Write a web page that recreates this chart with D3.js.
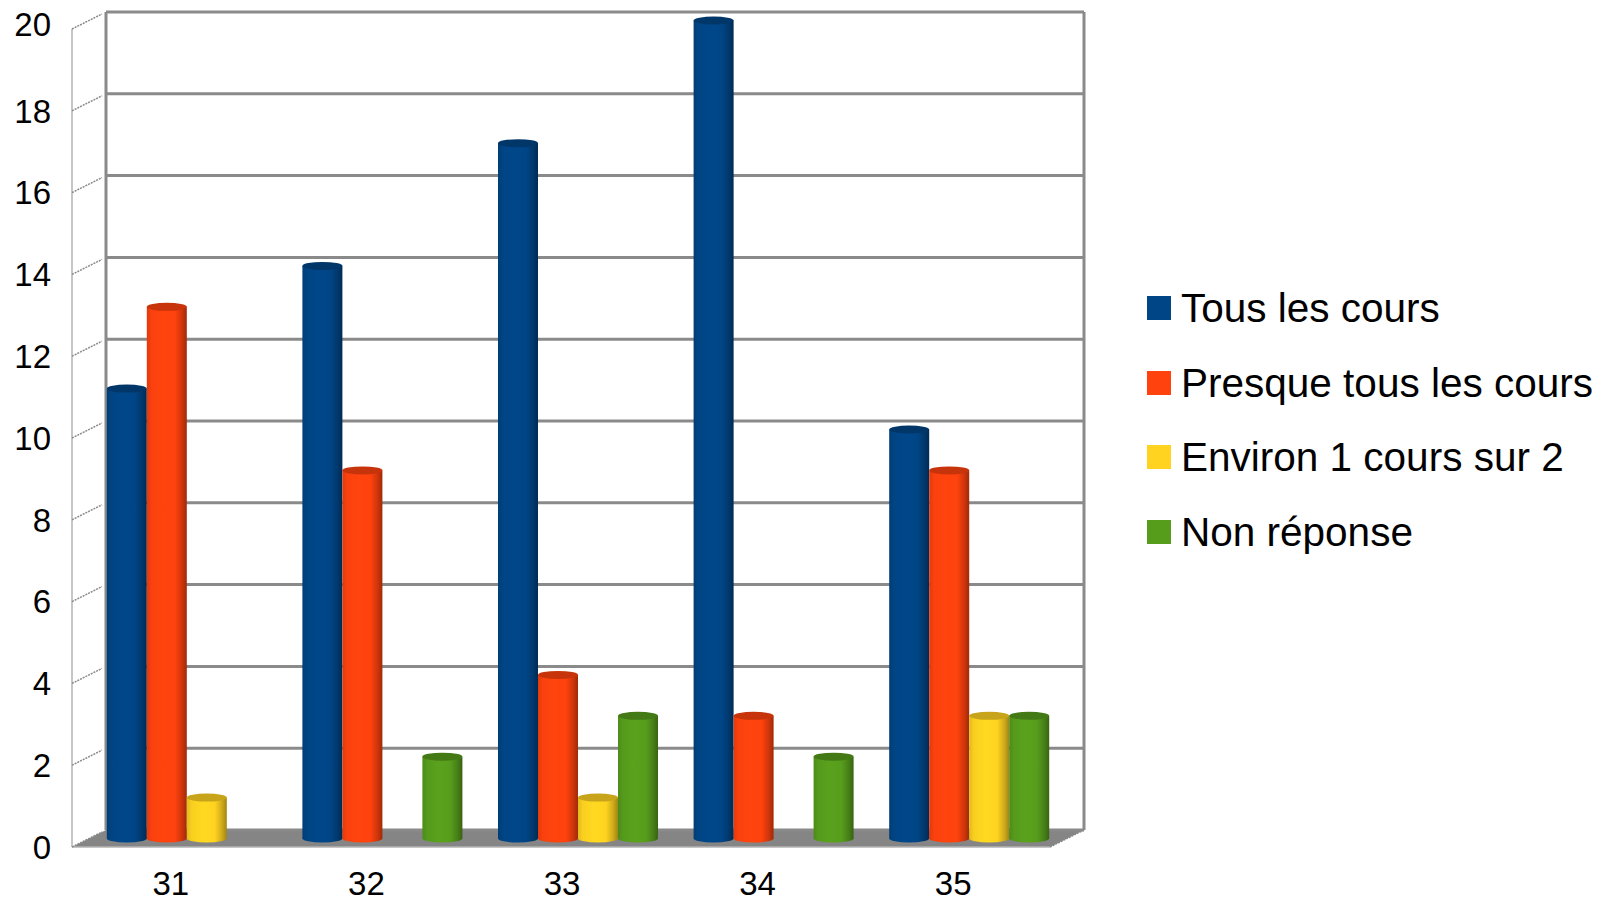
<!DOCTYPE html>
<html><head><meta charset="utf-8">
<script src="https://cdn.jsdelivr.net/npm/d3@7"></script>
<style>html,body{margin:0;padding:0;background:#fff;}svg{display:block;font-family:"Liberation Sans",Arial,sans-serif;}</style>
</head><body>
<svg id="chart" width="1601" height="903"></svg>
<script>
const categories = ["31", "32", "33", "34", "35"];
const seriesNames = ["Tous les cours", "Presque tous les cours", "Environ 1 cours sur 2", "Non réponse"];
const seriesColors = ["#004586", "#ff420e", "#ffd320", "#579d1c"];
const tousLesCours = [11, 14, 17, 20, 10];
const presqueTous = [13, 9, 4, 3, 9];
const environ1sur2 = [1, 0, 1, 0, 3];
const nonReponse = [0, 2, 3, 2, 3];
const yTicks = [0, 2, 4, 6, 8, 10, 12, 14, 16, 18, 20];

const seriesValues = [tousLesCours, presqueTous, environ1sur2, nonReponse];

const svg = d3.select("#chart");
const depthX = -34, depthY = 17; // back wall -> front
const halfX = depthX / 2, halfY = depthY / 2;

const y = d3.scaleLinear().domain([0, 20]).range([830, 12]);
const x = d3.scaleBand().domain(categories).range([106, 1084]);
const x1 = d3.scaleBand().domain(seriesNames).range([0, x.bandwidth()]).paddingInner(0).paddingOuter(0.445);

// gradients
const defs = svg.append("defs");
seriesColors.forEach((c, i) => {
  const base = d3.color(c);
  const g = defs.append("linearGradient").attr("id", "grad" + i).attr("x1", "0%").attr("x2", "100%").attr("y1", "0%").attr("y2", "0%");
  const stops = [
    [0, base.darker(0.35)],
    [0.12, base.darker(0.05)],
    [0.4, base.brighter(0.08)],
    [0.7, base],
    [0.88, base.darker(0.6)],
    [1, base.darker(1.3)]
  ];
  stops.forEach(s => g.append("stop").attr("offset", (s[0] * 100) + "%").attr("stop-color", s[1].formatHex()));
});

// floor
const x0b = 106, x1b = 1084;
svg.append("path")
  .attr("d", `M${x0b},${y(0)} L${x1b},${y(0)} L${x1b + depthX},${y(0) + depthY} L${x0b + depthX},${y(0) + depthY} Z`)
  .attr("fill", "#858585");
svg.append("line").attr("x1", x0b + depthX).attr("x2", x1b + depthX).attr("y1", y(0) + depthY).attr("y2", y(0) + depthY)
  .attr("stroke", "#b3b3b3").attr("stroke-width", 1.5);
svg.append("line").attr("x1", x1b).attr("y1", y(0)).attr("x2", x1b + depthX).attr("y2", y(0) + depthY)
  .attr("stroke", "#888").attr("stroke-width", 1.5).attr("stroke-dasharray", "2,1");

// back wall gridlines
svg.append("g").selectAll("line").data(yTicks).join("line")
  .attr("x1", x0b).attr("x2", x1b).attr("y1", d => y(d)).attr("y2", d => y(d))
  .attr("stroke", "#8a8a8a").attr("stroke-width", 3);
svg.append("line").attr("x1", x0b).attr("x2", x0b).attr("y1", y(20)).attr("y2", y(0)).attr("stroke", "#8a8a8a").attr("stroke-width", 3);
svg.append("line").attr("x1", x1b).attr("x2", x1b).attr("y1", y(20)).attr("y2", y(0)).attr("stroke", "#8a8a8a").attr("stroke-width", 3);

// front axis line & depth ticks
svg.append("line").attr("x1", x0b + depthX).attr("x2", x0b + depthX).attr("y1", y(20) + depthY).attr("y2", y(0) + depthY)
  .attr("stroke", "#a0a0a0").attr("stroke-width", 1.2);
svg.append("g").selectAll("line").data(yTicks).join("line")
  .attr("x1", x0b + depthX).attr("y1", d => y(d) + depthY)
  .attr("x2", x0b - 4).attr("y2", d => y(d) + 2)
  .attr("stroke", "#8a8a8a").attr("stroke-width", 1.5).attr("stroke-dasharray", "2,1");

// y tick labels
svg.append("g").selectAll("text").data(yTicks).join("text")
  .attr("x", 51).attr("y", d => d === 20 ? y(d) + depthY - 2 : y(d) + depthY + 3)
  .attr("text-anchor", "end").attr("dominant-baseline", "middle")
  .attr("font-size", 33).attr("fill", "#000").text(d => d);

// bars (cylinders)
const ry = 4;
const barData = [];
categories.forEach((cat, ci) => {
  seriesNames.forEach((s, si) => {
    const v = seriesValues[si][ci];
    if (v > 0) barData.push({cat, s, si, v});
  });
});
const bars = svg.append("g").selectAll("g").data(barData).join("g");
bars.each(function(d) {
  const g = d3.select(this);
  const bx = x(d.cat) + x1(d.s) + halfX;
  const bw = x1.bandwidth();
  const yTop = y(d.v) + halfY;
  const yBot = y(0) + halfY;
  const col = d3.color(seriesColors[d.si]);
  g.append("ellipse").attr("cx", bx + bw / 2).attr("cy", yBot).attr("rx", bw / 2).attr("ry", ry)
    .attr("fill", `url(#grad${d.si})`);
  g.append("rect").attr("x", bx).attr("y", yTop).attr("width", bw).attr("height", yBot - yTop)
    .attr("fill", `url(#grad${d.si})`);
  g.append("ellipse").attr("cx", bx + bw / 2).attr("cy", yTop).attr("rx", bw / 2).attr("ry", ry)
    .attr("fill", col.darker(0.7).formatHex());
});

// x category labels
svg.append("g").selectAll("text").data(categories).join("text")
  .attr("x", d => x(d) + x.bandwidth() / 2 + depthX + 1)
  .attr("y", 895)
  .attr("text-anchor", "middle").attr("font-size", 33).attr("fill", "#000").text(d => d);

// legend
const legendY = [322, 397, 471, 546];
const lg = svg.append("g").selectAll("g").data(seriesNames).join("g");
lg.append("rect").attr("x", 1147).attr("y", (d, i) => legendY[i] - 26).attr("width", 24).attr("height", 24)
  .attr("fill", (d, i) => seriesColors[i]);
lg.append("text").attr("x", 1181).attr("y", (d, i) => legendY[i])
  .attr("font-size", 40.5).attr("fill", "#000").text(d => d);
</script>
</body></html>
